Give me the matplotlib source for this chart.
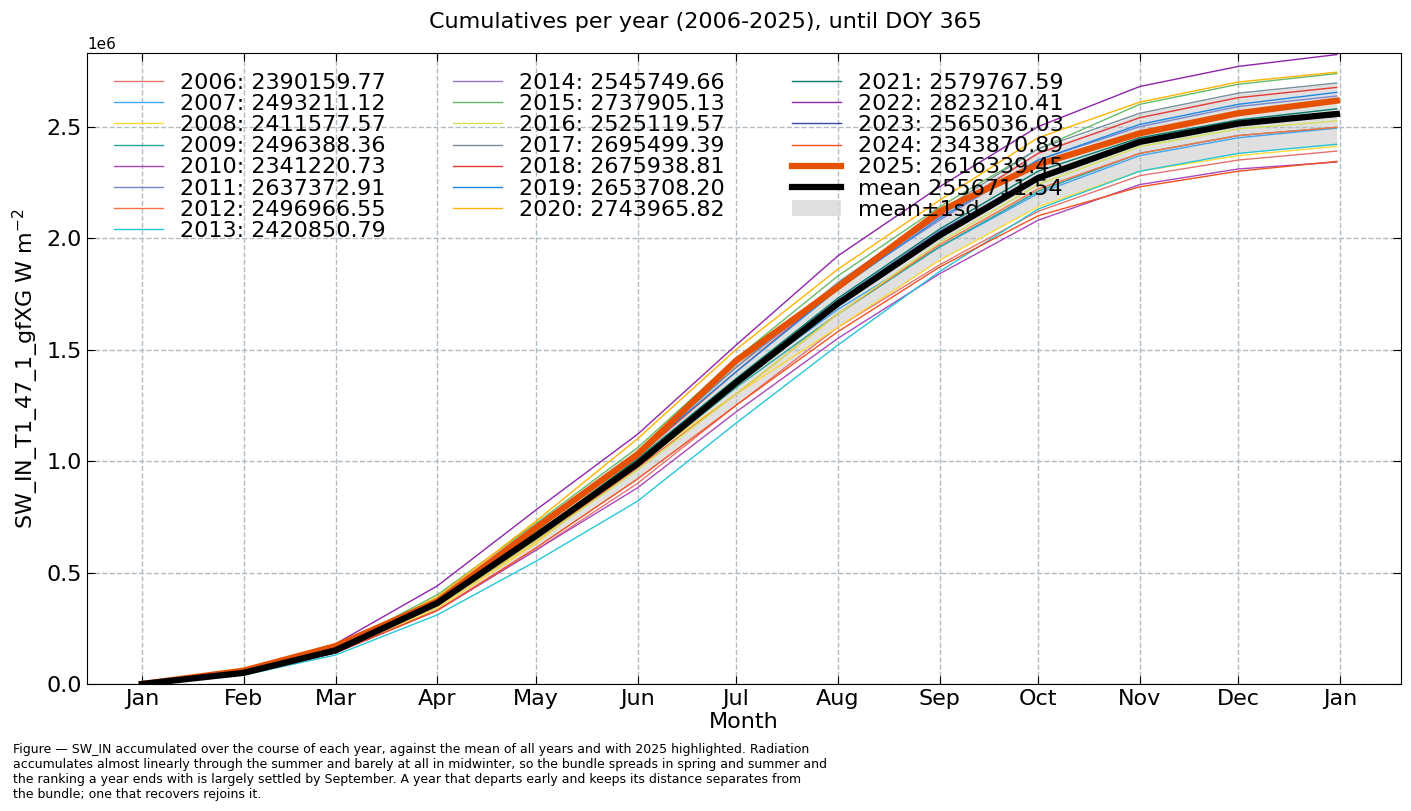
import numpy as np
import matplotlib.pyplot as plt

years = list(range(2006, 2026))
totals = [2390159.77, 2493211.12, 2411577.57, 2496388.36, 2341220.73, 2637372.91,
          2496966.55, 2420850.79, 2545749.66, 2737905.13, 2525119.57, 2695499.39,
          2675938.81, 2653708.20, 2743965.82, 2579767.59, 2823210.41, 2565036.03,
          2343870.89, 2616339.45]

# cumulative at the start of each month (Jan..Dec), in 1e6
monthly = [
    [0, 0.05, 0.14, 0.33, 0.60, 0.90, 1.25, 1.60, 1.88, 2.12, 2.28, 2.35],
    [0, 0.05, 0.15, 0.36, 0.66, 0.97, 1.35, 1.68, 1.96, 2.20, 2.37, 2.45],
    [0, 0.05, 0.14, 0.34, 0.63, 0.99, 1.30, 1.60, 1.90, 2.14, 2.30, 2.37],
    [0, 0.05, 0.15, 0.37, 0.68, 0.98, 1.33, 1.66, 1.96, 2.21, 2.38, 2.46],
    [0, 0.05, 0.14, 0.33, 0.60, 0.88, 1.22, 1.55, 1.84, 2.08, 2.24, 2.31],
    [0, 0.05, 0.16, 0.38, 0.70, 1.04, 1.42, 1.78, 2.08, 2.35, 2.50, 2.59],
    [0, 0.05, 0.15, 0.35, 0.64, 0.97, 1.30, 1.66, 1.97, 2.22, 2.38, 2.46],
    [0, 0.04, 0.13, 0.31, 0.55, 0.82, 1.17, 1.52, 1.85, 2.13, 2.30, 2.38],
    [0, 0.05, 0.15, 0.36, 0.66, 0.99, 1.35, 1.71, 2.02, 2.27, 2.43, 2.51],
    [0, 0.05, 0.16, 0.40, 0.72, 1.06, 1.46, 1.83, 2.14, 2.40, 2.60, 2.69],
    [0, 0.05, 0.15, 0.35, 0.64, 0.96, 1.30, 1.66, 1.98, 2.24, 2.41, 2.49],
    [0, 0.05, 0.16, 0.38, 0.70, 1.03, 1.42, 1.80, 2.12, 2.40, 2.56, 2.65],
    [0, 0.05, 0.15, 0.37, 0.69, 1.02, 1.40, 1.78, 2.10, 2.38, 2.54, 2.63],
    [0, 0.05, 0.16, 0.38, 0.69, 1.03, 1.40, 1.77, 2.09, 2.35, 2.51, 2.60],
    [0, 0.05, 0.16, 0.39, 0.73, 1.10, 1.50, 1.86, 2.17, 2.45, 2.61, 2.70],
    [0, 0.05, 0.15, 0.37, 0.67, 1.01, 1.37, 1.73, 2.04, 2.30, 2.45, 2.53],
    [0, 0.06, 0.18, 0.44, 0.78, 1.12, 1.52, 1.92, 2.23, 2.50, 2.68, 2.77],
    [0, 0.05, 0.15, 0.36, 0.66, 0.98, 1.36, 1.72, 2.03, 2.28, 2.43, 2.52],
    [0, 0.05, 0.14, 0.33, 0.61, 0.92, 1.25, 1.58, 1.87, 2.10, 2.23, 2.30],
    [0, 0.06, 0.17, 0.37, 0.70, 1.03, 1.45, 1.78, 2.12, 2.33, 2.47, 2.56],
]

colors = ['#e57373', '#42a5f5', '#fdd835', '#26a69a', '#ab47bc', '#7986cb', '#ff7043',
          '#26c6da', '#9575cd', '#66bb6a', '#d4e157', '#78909c', '#e53935', '#1e88e5',
          '#ffb300', '#00796b', '#8e24aa', '#3949ab', '#f4511e']

month_days = [1, 32, 60, 91, 121, 152, 182, 213, 244, 274, 305, 335, 366]
month_labels = ['Jan', 'Feb', 'Mar', 'Apr', 'May', 'Jun', 'Jul', 'Aug', 'Sep', 'Oct',
                'Nov', 'Dec', 'Jan']

series = np.array([np.array(m) * 1e6 for m in monthly])
series = np.column_stack([series, totals])
x = np.array(month_days[:-1] + [365])

fig = plt.figure(figsize=(14.11, 8.11), dpi=100)
ax = fig.add_axes([0.0617, 0.1566, 0.9313, 0.778])

handles = []
for i, y in enumerate(years[:-1]):
    h, = ax.plot(x, series[i], color=colors[i], lw=1, label=f'{y}: {totals[i]:.2f}')
    handles.append(h)

past = series[:-1]
mean = past.mean(axis=0)
std = past.std(axis=0)
fill = ax.fill_between(x, mean - std, mean + std, color='#d9d9d9', alpha=0.8, lw=0,
                       label='mean±1sd')
h25, = ax.plot(x, series[-1], color='#e65100', lw=4.5, label=f'2025: {totals[-1]:.2f}')
hm, = ax.plot(x, mean, color='black', lw=4.5, label=f'mean {np.mean(totals[:-1]):.2f}')
handles += [h25, hm, fill]

ax.set_xlim(-15.7, 384.6)
ax.set_ylim(0, 2.83e6)
ax.set_xticks(month_days)
ax.set_xticklabels(month_labels)
ax.tick_params(direction='in', top=True, right=True, labelsize=16, length=6)
ax.yaxis.get_offset_text().set_fontsize(11)
ax.grid(True, ls='--', color='#b0bcc4', lw=1)
ax.set_xlabel('Month', fontsize=16, labelpad=2)
ax.set_ylabel(r'SW_IN_T1_47_1_gfXG W m$^{-2}$', fontsize=16)
ax.legend(handles=handles, ncol=3, fontsize=16, frameon=False, loc='upper left',
          handlelength=2.2, labelspacing=0.05, columnspacing=3.0,
          bbox_to_anchor=(0.005, 1.0))
fig.suptitle('Cumulatives per year (2006-2025), until DOY 365', fontsize=16, y=0.985)

fig.text(0.009, 0.012,
         'Figure — SW_IN accumulated over the course of each year, against the mean of all years and with 2025 highlighted. Radiation\n'
         'accumulates almost linearly through the summer and barely at all in midwinter, so the bundle spreads in spring and summer and\n'
         'the ranking a year ends with is largely settled by September. A year that departs early and keeps its distance separates from\n'
         'the bundle; one that recovers rejoins it.', fontsize=9, va='bottom')

fig.savefig('out.png', dpi=100)
